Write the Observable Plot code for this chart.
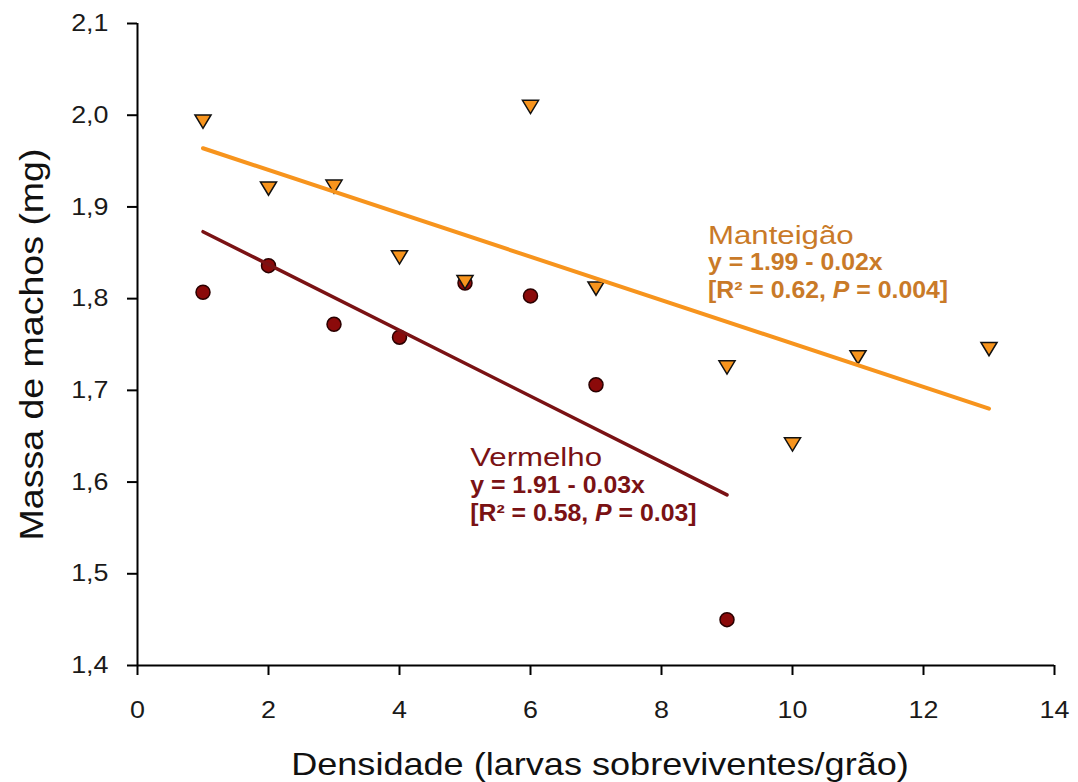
<!DOCTYPE html>
<html>
<head>
<meta charset="utf-8">
<script src="https://cdn.jsdelivr.net/npm/d3@7"></script>
<script src="https://cdn.jsdelivr.net/npm/@observablehq/plot@0.6"></script>
<style>
  html, body { margin: 0; padding: 0; background: #fff; }
  #chart svg { display: block; }
</style>
</head>
<body>
<div id="chart"></div>
<script>
// ---- Data ----
const mantX = [1, 2, 3, 4, 5, 6, 7, 9, 10, 11, 13];
const mantY = [1.993, 1.920, 1.922, 1.845, 1.818, 2.009, 1.811, 1.725, 1.641, 1.736, 1.745];
const vermX = [1, 2, 3, 4, 5, 6, 7, 9];
const vermY = [1.807, 1.836, 1.772, 1.758, 1.817, 1.803, 1.706, 1.450];

// fitted regression lines (end points)
const mantFitX = [1, 13];
const mantFitY = [1.964, 1.680];
const vermFitX = [1, 9];
const vermFitY = [1.873, 1.586];

const xTicks = [0, 2, 4, 6, 8, 10, 12, 14];
const yTicks = [1.4, 1.5, 1.6, 1.7, 1.8, 1.9, 2.0, 2.1];

const xLabel = "Densidade (larvas sobreviventes/grão)";
const yLabel = "Massa de machos (mg)";

// annotations (data coordinates)
const mantLabel = ["Manteigão"];
const mantEq = ["y = 1.99 - 0.02x", "[R² = 0.62, P = 0.004]"];
const vermLabel = ["Vermelho"];
const vermEq = ["y = 1.91 - 0.03x", "[R² = 0.58, P = 0.03]"];
const mantAnnX = 8.71, mantAnnY = [1.869, 1.8388, 1.8083];
const vermAnnX = 5.08, vermAnnY = [1.627, 1.5956, 1.5651];

// ---- Styles ----
const ORANGE = "#f7941d";
const ORANGE_TEXT = "#c97a28";
const RED = "#7a1214";
const RED_FILL = "#8b0a0a";
const FONT = "'Liberation Sans', Arial, Helvetica, sans-serif";

const triangleDown = {
  draw(context, size) {
    const r = Math.sqrt(size / Math.PI);
    context.moveTo(-1.15 * r, -0.95 * r);
    context.lineTo(1.15 * r, -0.95 * r);
    context.lineTo(0, 0.95 * r);
    context.closePath();
  }
};

const mant = mantX.map((x, i) => ({x, y: mantY[i]}));
const verm = vermX.map((x, i) => ({x, y: vermY[i]}));
const mantFit = mantFitX.map((x, i) => ({x, y: mantFitY[i]}));
const vermFit = vermFitX.map((x, i) => ({x, y: vermFitY[i]}));

const mantAnnLines = [...mantLabel, ...mantEq].map((t, i) => ({t, x: mantAnnX, y: mantAnnY[i]}));
const vermAnnLines = [...vermLabel, ...vermEq].map((t, i) => ({t, x: vermAnnX, y: vermAnnY[i]}));

const svg = Plot.plot({
  width: 1078,
  height: 782,
  marginLeft: 137,
  marginRight: 24,
  marginTop: 23,
  marginBottom: 117,
  style: {fontFamily: FONT, background: "#fff", overflow: "visible"},
  x: {domain: [0, 14], axis: null},
  y: {domain: [1.4, 2.1], axis: null},
  marks: [
    Plot.axisX({ticks: xTicks, tickSize: 10, tickPadding: 25, fontSize: 24, stroke: "#000", strokeWidth: 2, fill: "#1a1a1a", label: null, tickFormat: d => String(d)}),
    Plot.axisY({ticks: yTicks, tickSize: 10, tickPadding: 19, fontSize: 24, stroke: "#000", strokeWidth: 2, fill: "#1a1a1a", label: null, tickFormat: d => d.toFixed(1).replace(".", ",")}),
    Plot.ruleX([0], {stroke: "#000", strokeWidth: 2}),
    Plot.ruleY([1.4], {stroke: "#000", strokeWidth: 2}),
    Plot.dot(verm, {x: "x", y: "y", r: 7, fill: RED_FILL, stroke: "#2a0000", strokeWidth: 1.5}),
    Plot.dot(mant, {x: "x", y: "y", r: 7, symbol: triangleDown, fill: ORANGE, stroke: "#111", strokeWidth: 1.5}),
    Plot.line(mantFit, {x: "x", y: "y", stroke: ORANGE, strokeWidth: 4}),
    Plot.line(vermFit, {x: "x", y: "y", stroke: RED, strokeWidth: 3.5}),
    Plot.text(mantAnnLines.slice(0, 1), {x: "x", y: "y", text: "t", textAnchor: "start", lineAnchor: "middle", fill: ORANGE_TEXT, fontSize: 26}),
    Plot.text(mantAnnLines.slice(1), {x: "x", y: "y", text: "t", textAnchor: "start", lineAnchor: "middle", fill: ORANGE_TEXT, fontSize: 23, fontWeight: "bold"}),
    Plot.text(vermAnnLines.slice(0, 1), {x: "x", y: "y", text: "t", textAnchor: "start", lineAnchor: "middle", fill: RED, fontSize: 26}),
    Plot.text(vermAnnLines.slice(1), {x: "x", y: "y", text: "t", textAnchor: "start", lineAnchor: "middle", fill: RED, fontSize: 23, fontWeight: "bold"}),
    Plot.text([xLabel], {frameAnchor: "bottom", textAnchor: "middle", lineAnchor: "middle", dx: 4, dy: 99, fontSize: 32, fill: "#111"}),
    Plot.text([yLabel], {frameAnchor: "left", textAnchor: "middle", lineAnchor: "middle", dx: -105, dy: 0, rotate: -90, fontSize: 33, fill: "#111"})
  ]
});

// horizontal stretch of the text glyphs, as in the reference rendering (keyed by font size)
const stretch = {"24": 1.12, "26": 1.2, "23": 1.08, "32": 1.128, "33": 1.137};
d3.select(svg).selectAll("text").each(function() {
  const g = this.closest("[font-size]");
  const fs = g ? String(parseFloat(g.getAttribute("font-size"))) : "";
  const s = stretch[fs] ?? 1.1;
  const t = this.getAttribute("transform");
  if (t) {
    this.setAttribute("transform", t + ` scale(${s},1)`);
  } else {
    const x = +this.getAttribute("x") || 0, y = +this.getAttribute("y") || 0;
    this.removeAttribute("x"); this.removeAttribute("y");
    this.setAttribute("transform", `translate(${x},${y}) scale(${s},1)`);
  }
  const txt = this.textContent;
  if (txt.includes(", P =")) {
    const [a, b] = txt.split("P =");
    const sel = d3.select(this);
    sel.text("");
    sel.append("tspan").text(a);
    sel.append("tspan").attr("font-style", "italic").text("P");
    sel.append("tspan").text(" =" + b);
  }
});

document.getElementById("chart").appendChild(svg);
</script>
</body>
</html>
